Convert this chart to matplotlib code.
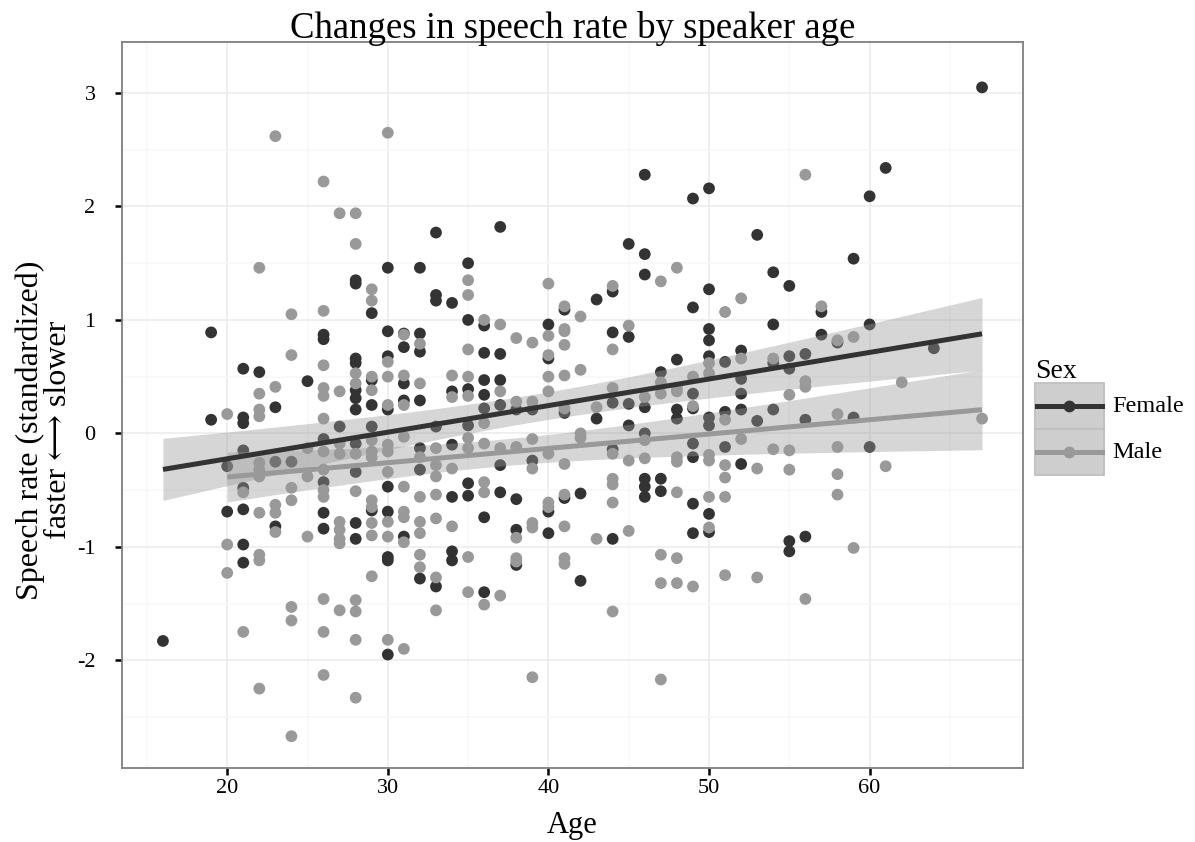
import numpy as np
import matplotlib.pyplot as plt
from matplotlib.patches import Rectangle
from matplotlib.lines import Line2D

# speech rate (standardized) per age
female_ages = [16, 19, 20, 21, 22, 23, 24, 25, 26, 27, 28, 29, 30, 31, 32, 33, 34, 35, 36, 37,
               38, 39, 40, 41, 42, 43, 44, 45, 46, 47, 48, 49, 50, 51, 52, 53, 54, 55, 56, 57,
               58, 59, 60, 61, 64, 67]
female_rates = [
    [-1.83],
    [0.89, 0.12],
    [-0.29, -0.69],
    [0.57, 0.14, 0.09, -0.15, -0.48, -0.67, -0.98, -1.14],
    [0.54],
    [0.23, -0.25, -0.82],
    [-0.25],
    [0.46],
    [0.87, 0.83, -0.05, -0.43, -0.70, -0.84],
    [0.06],
    [1.35, 1.32, 0.66, 0.62, 0.38, 0.31, 0.21, -0.09, -0.34, -0.79, -0.93],
    [1.06, 0.47, 0.25, 0.06, -0.68],
    [1.46, 0.90, 0.68, 0.21, -0.47, -0.69, -1.09, -1.12, -1.95],
    [0.88, 0.76, 0.44, 0.29, -0.91],
    [1.46, 0.88, 0.72, 0.29, -0.13, -0.32, -1.28],
    [1.77, 1.22, 1.17, 0.06, -1.35],
    [1.15, 0.37, -0.10, -0.56, -1.04, -1.12],
    [1.50, 1.00, 0.39, 0.07, -0.44, -0.55],
    [0.95, 0.71, 0.47, 0.34, 0.22, -0.74, -1.40],
    [1.82, 0.70, 0.47, 0.25, -0.28, -0.52],
    [0.21, -0.58, -0.85, -1.16],
    [0.21, -0.24],
    [0.96, 0.66, -0.69, -0.88],
    [1.09, 0.18, -0.57],
    [-0.53, -1.30],
    [1.18, 0.13],
    [1.25, 0.89, 0.27, -0.14, -0.93],
    [1.67, 0.85, 0.26, 0.07],
    [2.28, 1.58, 1.40, 0.23, 0.00, -0.40, -0.47, -0.56],
    [0.54, -0.40, -0.51],
    [0.65, 0.21, 0.13],
    [2.07, 1.11, 0.35, 0.22, -0.09, -0.21, -0.62, -0.88],
    [2.16, 1.27, 0.92, 0.82, 0.68, 0.14, 0.07, -0.71, -0.87],
    [0.63, 0.19, -0.12],
    [0.73, 0.48, 0.35, 0.21, -0.27],
    [1.75, 0.11],
    [1.42, 0.96, 0.62, 0.21],
    [1.30, 0.68, 0.57, -0.95, -1.04],
    [0.70, 0.12, -0.91],
    [1.07, 0.87],
    [0.80],
    [1.54, 0.14],
    [2.09, 0.96, -0.12],
    [2.34],
    [0.75],
    [3.05],
]

male_ages = [20, 21, 22, 23, 24, 25, 26, 27, 28, 29, 30, 31, 32, 33, 34, 35, 36, 37, 38, 39,
             40, 41, 42, 43, 44, 45, 46, 47, 48, 49, 50, 51, 52, 53, 54, 55, 56, 57, 58, 59,
             61, 62, 67]
male_rates = [
    [0.17, -0.98, -1.23],
    [-0.52, -1.75],
    [1.46, 0.35, 0.21, 0.15, -0.26, -0.32, -0.38, -0.70, -1.07, -1.12, -2.25],
    [2.62, 0.41, -0.63, -0.70, -0.87],
    [1.05, 0.69, -0.48, -0.59, -1.53, -1.65, -2.67],
    [-0.13, -0.38, -0.91],
    [2.22, 1.08, 0.60, 0.40, 0.33, 0.13, -0.16, -0.32, -0.50, -0.56, -1.46, -1.75, -2.13],
    [1.94, 0.37, -0.09, -0.18, -0.78, -0.85, -0.93, -0.97, -1.56],
    [1.94, 1.67, 0.53, 0.44, -0.18, -0.51, -1.47, -1.57, -1.82, -2.33],
    [1.27, 1.17, 0.50, 0.38, -0.06, -0.16, -0.21, -0.59, -0.65, -0.79, -0.90, -1.26],
    [2.65, 0.63, 0.50, 0.25, -0.10, -0.16, -0.34, -0.78, -0.91, -1.82],
    [0.87, 0.51, 0.25, -0.03, -0.47, -0.69, -0.74, -0.96, -1.90],
    [0.79, 0.44, -0.21, -0.56, -0.78, -0.88, -1.07, -1.18],
    [-0.13, -0.28, -0.38, -0.54, -0.75, -1.27, -1.56],
    [0.51, 0.32, -0.31, -0.82],
    [1.35, 1.22, 0.74, 0.50, 0.33, -0.04, -0.13, -1.09, -1.40],
    [1.00, 0.09, -0.09, -0.43, -0.52, -1.51],
    [0.96, 0.37, -0.13, -1.43],
    [0.84, 0.28, -0.12, -0.92, -1.10, -1.13],
    [0.80, 0.28, -0.05, -0.31, -0.79, -0.83, -2.15],
    [1.32, 0.86, 0.69, 0.50, 0.37, -0.18, -0.61, -0.65],
    [1.12, 0.92, 0.90, 0.78, 0.51, 0.22, -0.27, -0.54, -0.82, -1.10, -1.15],
    [1.03, 0.56, 0.00, -0.04],
    [0.23, -0.93],
    [1.30, 0.74, 0.40, -0.18, -0.40, -0.45, -0.61, -1.57],
    [0.95, -0.24, -0.86],
    [0.32, -0.06, -0.22],
    [1.34, 0.45, 0.35, -1.07, -1.32, -2.17],
    [1.46, 0.40, 0.37, -0.21, -0.25, -0.52, -1.10, -1.32],
    [0.50, 0.24, -1.35],
    [0.62, 0.53, -0.19, -0.24, -0.56, -0.83],
    [1.07, 0.12, -0.28, -0.39, -0.56, -1.25],
    [1.19, 0.66, -0.05],
    [-0.31, -1.27],
    [0.66, -0.14],
    [0.34, -0.15, -0.32],
    [2.28, 0.46, 0.41, -1.46],
    [1.12],
    [0.82, 0.17, -0.12, -0.36, -0.54],
    [0.85, -1.01],
    [-0.29],
    [0.45],
    [0.13],
]

x_ticks = [20, 30, 40, 50, 60]
y_ticks = [-2, -1, 0, 1, 2, 3]
sexes = ['Female', 'Male']
colors = {'Female': '#333333', 'Male': '#999999'}

plt.rcParams['font.family'] = ['Liberation Serif', 'DejaVu Serif', 'DejaVu Sans']
plt.rcParams['axes.unicode_minus'] = False


def flatten(ages, rates):
    x = np.repeat(np.asarray(ages, float), [len(r) for r in rates])
    y = np.concatenate([np.asarray(r, float) for r in rates])
    return x, y


def lm_band(x, y, n=80, t=1.972):
    # straight line fit with 95% confidence band (like geom_smooth(method='lm'))
    b, a = np.polyfit(x, y, 1)
    xs = np.linspace(x.min(), x.max(), n)
    fit = a + b * xs
    s = np.sqrt(np.sum((y - (a + b * x)) ** 2) / (len(x) - 2))
    se = s * np.sqrt(1 / len(x) + (xs - x.mean()) ** 2 / np.sum((x - x.mean()) ** 2))
    return xs, fit, fit - t * se, fit + t * se


data = {'Female': flatten(female_ages, female_rates),
        'Male': flatten(male_ages, male_rates)}

W, H = 1195, 842
fig = plt.figure(figsize=(W / 100, H / 100), dpi=100, facecolor='white')
ax = fig.add_axes([122 / W, 1 - 768 / H, (1023 - 122) / W, (768 - 42) / H])

for sex in sexes:
    x, y = data[sex]
    ax.scatter(x, y, s=72, color=colors[sex], edgecolors='none', zorder=3)

for sex in sexes:
    x, y = data[sex]
    xs, fit, lo, hi = lm_band(x, y)
    ax.fill_between(xs, lo, hi, color='#999999', alpha=0.4, linewidth=0, zorder=4)
    ax.plot(xs, fit, color=colors[sex], linewidth=3.6, zorder=5, solid_capstyle='butt')

ax.set_xlim(13.45, 69.55)
ax.set_ylim(-2.95, 3.45)
ax.set_xticks(x_ticks)
ax.set_yticks(y_ticks)
ax.set_xticks(np.arange(15, 70, 10), minor=True)
ax.set_yticks(np.arange(-2.5, 3.5, 1.0), minor=True)
ax.grid(True, which='major', color='#ebebeb', linewidth=1.1, zorder=0)
ax.grid(True, which='minor', color='#f8f8f8', linewidth=1.1, zorder=0)
ax.set_axisbelow(True)
ax.tick_params(which='major', length=5, width=1.8, color='black', labelsize=16,
               labelcolor='black')
ax.tick_params(axis='y', pad=14)
ax.tick_params(axis='x', pad=3)
ax.tick_params(which='minor', length=0)
for sp in ax.spines.values():
    sp.set_color('#7f7f7f')
    sp.set_linewidth(1.3)

# titles placed in figure pixels
fig.text(572.5 / W, 1 - 38 / H, 'Changes in speech rate by speaker age', fontsize=26.5,
         ha='center', va='baseline')
fig.text(572.5 / W, 1 - 833 / H, 'Age', fontsize=22, ha='center', va='baseline')
fig.text(44 / W, 1 - 430 / H, 'Speech rate (standardized)\nfaster \u27f7 slower', fontsize=23,
         rotation=90, ha='center', va='center', multialignment='center', linespacing=0.95)

# legend drawn by hand in pixel space
lax = fig.add_axes([0, 0, 1, 1], facecolor='none')
lax.set_xlim(0, W)
lax.set_ylim(H, 0)
lax.axis('off')
lax.text(1035, 372, 'Sex', fontsize=20, va='center', ha='left')
key_top = [383, 429]
for sex, top in zip(sexes, key_top):
    lax.add_patch(Rectangle((1035, top), 69, 46, facecolor='#f2f2f2',
                            edgecolor='#bdbdbd', linewidth=1.3))
    lax.add_patch(Rectangle((1036, top + 1), 67, 44, facecolor='#999999',
                            alpha=0.4, edgecolor='none'))
    lax.add_line(Line2D([1037, 1102], [top + 23, top + 23], color=colors[sex], linewidth=3.6))
    lax.add_line(Line2D([1069.5], [top + 23], marker='o', markersize=8.5,
                        color=colors[sex], markeredgewidth=0))
    lax.text(1112, top + 23, sex, fontsize=17.5, va='center', ha='left')

fig.savefig('out.png', dpi=100)
